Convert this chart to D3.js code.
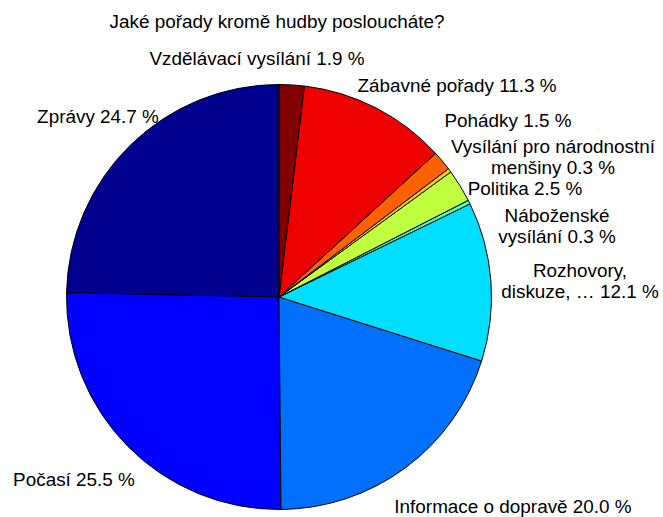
<!DOCTYPE html>
<html>
<head>
<meta charset="utf-8">
<script src="https://cdn.jsdelivr.net/npm/d3@7"></script>
<style>
  html, body { margin: 0; padding: 0; background: #fff; }
  svg { display: block; }
  text { font-family: Arial, "Liberation Sans", Helvetica, sans-serif; fill: #000; }
</style>
</head>
<body>
<svg id="chart" width="663" height="517"></svg>
<script>
// ---- data ----
const title = "Jaké pořady kromě hudby posloucháte?";
const categories = [
  ["Zprávy"],
  ["Počasí"],
  ["Informace o dopravě"],
  ["Rozhovory,", "diskuze, …"],
  ["Náboženské", "vysílání"],
  ["Politika"],
  ["Vysílání pro národnostní", "menšiny"],
  ["Pohádky"],
  ["Zábavné pořady"],
  ["Vzdělávací vysílání"]
];
const values = [24.7, 25.5, 20.0, 12.1, 0.3, 2.5, 0.3, 1.5, 11.3, 1.9];

// ---- layout / style (not data) ----
const W = 663, H = 517;
const cx = 279, cy = 297, R = 212.5;
const fontSize = 18.9, lineH = 20.5;
// jet colormap sampled for 10 faces
const colors = ["#00008F", "#0000FF", "#0070FF", "#00DFFF", "#50FFAF",
                "#BFFF40", "#FFCF00", "#FF6000", "#EF0000", "#800000"];
// label anchor (text centre, first baseline) relative to pie centre
const labelAt = [
  [-181, -174], [-205, 189], [234, 216], [301, -20], [278, -75],
  [246, -102], [274, -144], [229, -170], [178, -205], [-22, -232]
];

const svg = d3.select("#chart");

svg.append("text")
  .attr("x", cx - 2).attr("y", 28)
  .attr("text-anchor", "middle")
  .style("font-size", fontSize + "px")
  .text(title);

const pie = d3.pie().sort(null).value(d => d).startAngle(0).endAngle(-2 * Math.PI);
const arcs = pie(values);
const arc = d3.arc().innerRadius(0).outerRadius(R);

const g = svg.append("g").attr("transform", `translate(${cx},${cy})`);

g.selectAll("path.slice")
  .data(arcs)
  .join("path")
  .attr("class", "slice")
  .attr("d", arc)
  .attr("fill", (d, i) => colors[i])
  .attr("stroke", "#000")
  .attr("stroke-width", 1)
  .attr("stroke-linejoin", "round");

const fmt = d3.format(".1f");
const labels = g.selectAll("text.lbl")
  .data(arcs)
  .join("text")
  .attr("class", "lbl")
  .attr("text-anchor", "middle")
  .style("font-size", fontSize + "px")
  .attr("x", (d, i) => labelAt[i][0])
  .attr("y", (d, i) => labelAt[i][1]);

labels.each(function(d, i) {
  const lines = categories[i].slice();
  lines[lines.length - 1] = lines[lines.length - 1] + " " + fmt(values[i]) + " %";
  d3.select(this).selectAll("tspan")
    .data(lines)
    .join("tspan")
    .attr("x", labelAt[i][0])
    .attr("dy", (l, j) => j === 0 ? 0 : lineH)
    .text(l => l);
});
</script>
</body>
</html>
